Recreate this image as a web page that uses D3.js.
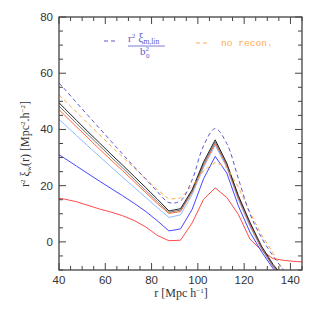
<!DOCTYPE html>
<html>
<head>
<meta charset="utf-8">
<script src="https://cdn.jsdelivr.net/npm/d3@7"></script>
<style>
  body { margin: 0; background: #fff; }
  svg text { font-family: "Liberation Serif", serif; }
</style>
</head>
<body>
<svg id="chart" width="319" height="319"></svg>
<script>
// separation grid (Mpc/h)
const rBins = [40, 42.5, 47.5, 52.5, 57.5, 62.5, 67.5, 72.5, 77.5, 82.5, 87.5, 92.5, 97.5, 102.5, 107.5, 112.5, 117.5, 122.5, 127.5, 132.5, 137.5, 142.5, 145];

// r^2 xi_w(r) for each curve
const linModel  = [56.5, 54.3, 49.6, 45.0, 40.4, 35.8, 31.2, 26.7, 22.3, 17.9, 14.0, 14.6, 22.0, 34.3, 40.3, 35.0, 22.5, 10.0, 1.5, -5.0, -10.5, -15, -17];
const noRecon   = [52.3, 50.3, 46.2, 42.1, 38.1, 34.1, 30.2, 26.3, 22.5, 18.6, 15.2, 15.6, 19.8, 25.3, 28.3, 26.5, 19.5, 10.5, 2.5, -4.0, -11, -16, -18];
const recBlack  = [49.5, 47.4, 43.3, 39.2, 35.2, 31.2, 27.3, 23.3, 19.3, 15.2, 11.0, 11.8, 18.5, 28.5, 36.3, 28.0, 16.5, 7.0, -1.5, -8.0, -13, -17, -18];
const recGray   = [48.3, 46.3, 42.2, 38.2, 34.2, 30.2, 26.3, 22.3, 18.3, 14.3, 10.5, 11.3, 18.0, 27.8, 35.6, 27.5, 16.0, 6.5, -2.0, -8.5, -13.5, -17.5, -18.5];
const recOrange = [47.0, 45.0, 41.0, 37.0, 33.0, 29.1, 25.3, 21.4, 17.5, 13.6, 10.1, 10.8, 17.6, 27.2, 35.0, 27.0, 15.5, 6.0, -2.3, -8.7, -14, -18, -19];
const recLtBlue = [43.6, 41.7, 37.9, 34.1, 30.4, 26.7, 23.0, 19.4, 15.8, 12.2, 8.7, 9.6, 16.8, 26.5, 34.4, 26.5, 15.0, 5.5, -2.5, -9.0, -14, -18, -19];
const recBlue   = [31.0, 29.7, 27.0, 24.3, 21.6, 19.0, 16.4, 13.7, 10.8, 7.5, 3.9, 4.6, 11.5, 22.5, 30.4, 24.5, 12.8, 3.5, -3.5, -9.5, -14, -18, -19];
const recRed    = [15.5, 15.2, 14.3, 13.0, 11.7, 10.6, 9.3, 7.6, 5.3, 2.3, 0.4, 0.6, 6.7, 15.2, 19.2, 15.8, 9.8, 1.0, -3.0, -6.0, -6.6, -7.0, -7.1];

const xTicks = [40, 60, 80, 100, 120, 140];
const yTicks = [0, 20, 40, 60, 80];

const series = [
  { ys: recRed,    color: '#ff4a4a', dash: null, smooth: false },
  { ys: recBlue,   color: '#4646ff', dash: null, smooth: false },
  { ys: recLtBlue, color: '#8fbcff', dash: null, smooth: false },
  { ys: recOrange, color: '#ff6a3a', dash: null, smooth: false },
  { ys: recGray,   color: '#777777', dash: null, smooth: false },
  { ys: recBlack,  color: '#222222', dash: null, smooth: false },
  { ys: noRecon,   color: '#ffaa4a', dash: '4,3', smooth: false },
  { ys: linModel,  color: '#5a5acc', dash: '4,3', smooth: true }
];

const svg = d3.select('#chart');
const pL = 59, pR = 302, pT = 17, pB = 270;

const x = d3.scaleLinear().domain([40, 145]).range([pL, pR]);
const y = d3.scaleLinear().domain([-10, 80]).range([pB, pT]);

svg.append('clipPath').attr('id', 'clip')
  .append('rect')
  .attr('x', pL).attr('y', pT)
  .attr('width', pR - pL).attr('height', pB - pT);

const plot = svg.append('g').attr('clip-path', 'url(#clip)');

series.forEach(s => {
  const line = d3.line()
    .x((d, i) => x(rBins[i]))
    .y(d => y(d))
    .curve(s.smooth ? d3.curveCatmullRom : d3.curveLinear);
  plot.append('path')
    .datum(s.ys)
    .attr('d', line)
    .attr('fill', 'none')
    .attr('stroke', s.color)
    .attr('stroke-width', 1)
    .attr('stroke-dasharray', s.dash);
});

// frame
svg.append('rect')
  .attr('x', pL).attr('y', pT)
  .attr('width', pR - pL).attr('height', pB - pT)
  .attr('fill', 'none').attr('stroke', '#333').attr('stroke-width', 1.2);

// inward ticks on all four sides
const xMinor = d3.range(40, 146, 5);
const yMinor = d3.range(-10, 81, 5);
const tickG = svg.append('g').attr('stroke', '#444').attr('stroke-width', 1);
xMinor.forEach(v => {
  const len = xTicks.includes(v) ? 7 : 4;
  tickG.append('line').attr('x1', x(v)).attr('x2', x(v)).attr('y1', pB).attr('y2', pB - len);
  tickG.append('line').attr('x1', x(v)).attr('x2', x(v)).attr('y1', pT).attr('y2', pT + len);
});
yMinor.forEach(v => {
  const len = yTicks.includes(v) ? 7 : 4;
  tickG.append('line').attr('y1', y(v)).attr('y2', y(v)).attr('x1', pL).attr('x2', pL + len);
  tickG.append('line').attr('y1', y(v)).attr('y2', y(v)).attr('x1', pR).attr('x2', pR - len);
});

// tick labels
svg.selectAll('.xl').data(xTicks).enter().append('text')
  .attr('x', d => x(d)).attr('y', pB + 14)
  .attr('text-anchor', 'middle')
  .style('font-family', '"Liberation Sans", sans-serif').style('font-size', '11.5px')
  .attr('fill', '#333')
  .text(d => d);
svg.selectAll('.yl').data(yTicks).enter().append('text')
  .attr('x', pL - 6).attr('y', d => y(d) + 4)
  .attr('text-anchor', 'end')
  .style('font-family', '"Liberation Sans", sans-serif').style('font-size', '11.5px')
  .attr('fill', '#333')
  .text(d => d);

// axis titles
const xt = svg.append('text').attr('x', 181).attr('y', 297)
  .attr('text-anchor', 'middle').style('font-size', '12px').attr('fill', '#333');
xt.append('tspan').text('r [Mpc h');
xt.append('tspan').attr('dy', -4).style('font-size', '7px').text('−1');
xt.append('tspan').attr('dy', 4).text(']');

const yt = svg.append('text')
  .attr('transform', 'translate(29,144) rotate(-90)')
  .attr('text-anchor', 'middle').style('font-size', '12px').attr('fill', '#333');
yt.append('tspan').text('r');
yt.append('tspan').attr('dy', -4).style('font-size', '7px').text('2');
yt.append('tspan').attr('dy', 4).text(' ξ');
yt.append('tspan').attr('dy', 2).style('font-size', '7px').text('w');
yt.append('tspan').attr('dy', -2).text('(r) [Mpc');
yt.append('tspan').attr('dy', -4).style('font-size', '7px').text('2');
yt.append('tspan').attr('dy', 4).text('.h');
yt.append('tspan').attr('dy', -4).style('font-size', '7px').text('−2');
yt.append('tspan').attr('dy', 4).text(']');

// legend
const legBlue = '#5a5acc', legOrange = '#ffaa4a';
svg.append('line').attr('x1', 104).attr('x2', 118).attr('y1', 41).attr('y2', 41)
  .attr('stroke', legBlue).attr('stroke-dasharray', '4,3');
const num = svg.append('text').attr('x', 128).attr('y', 42).attr('fill', legBlue).style('font-size', '11px');
num.append('tspan').text('r');
num.append('tspan').attr('dy', -4).style('font-size', '7px').text('2');
num.append('tspan').attr('dy', 4).style('font-size', '12px').text(' ξ');
num.append('tspan').attr('dy', 2).style('font-size', '7.5px').text('m,lin');
svg.append('line').attr('x1', 128).attr('x2', 165).attr('y1', 46).attr('y2', 46)
  .attr('stroke', legBlue).attr('stroke-width', 0.8);
const den = svg.append('text').attr('x', 140).attr('y', 55).attr('fill', legBlue).style('font-size', '11px');
den.append('tspan').text('b');
den.append('tspan').attr('dy', -4).style('font-size', '7px').text('2');
den.append('tspan').attr('x', 146).attr('dy', 7).style('font-size', '7px').text('0');

svg.append('line').attr('x1', 196).attr('x2', 210).attr('y1', 43).attr('y2', 43)
  .attr('stroke', legOrange).attr('stroke-dasharray', '4,3');
svg.append('text').attr('x', 221).attr('y', 46).attr('fill', legOrange)
  .style('font-family', '"Liberation Mono", monospace').style('font-size', '9.6px')
  .text('no recon.');
</script>
</body>
</html>
